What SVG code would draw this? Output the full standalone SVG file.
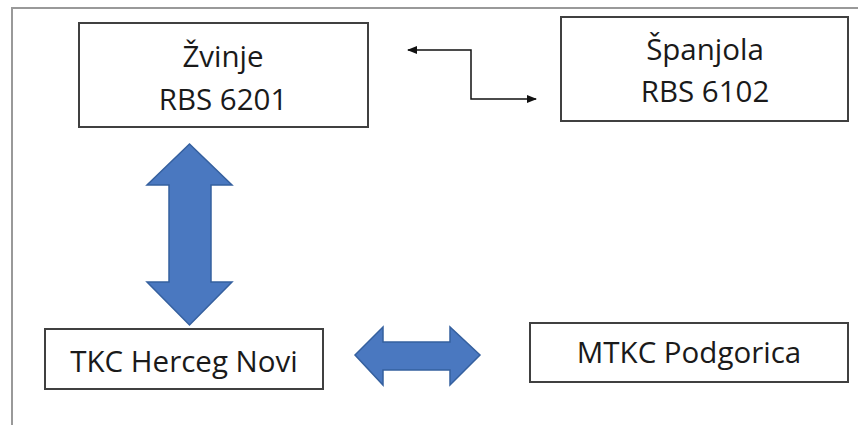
<svg xmlns="http://www.w3.org/2000/svg" width="858" height="425" viewBox="0 0 858 425">
<style>
.box{fill:#fff;stroke:#404040;stroke-width:2}
.t{font-family:"Open Sans","Liberation Sans",sans-serif;font-size:29.5px;fill:#1a1a1a;text-anchor:middle}
.fat{fill:#4a78c0;stroke:#35609f;stroke-width:1.5}
.thin{fill:none;stroke:#111;stroke-width:1.5}
</style>
<defs>
<marker id="ah" viewBox="0 0 10 10" refX="9" refY="5" markerWidth="7" markerHeight="7" orient="auto-start-reverse">
<path d="M0,1 L10,5 L0,9 Z" fill="#111"/>
</marker>
</defs>
<rect width="858" height="425" fill="#fff"/>
<path d="M12,425 V8 H858" fill="none" stroke="#999" stroke-width="2"/>
<g id="node-zvinje">
<rect class="box" x="79" y="23" width="289" height="104"/>
<text class="t" x="223" y="67">Žvinje</text>
<text class="t" x="223" y="110">RBS 6201</text>
</g>
<g id="node-spanjola">
<rect class="box" x="561" y="17" width="287" height="104"/>
<text class="t" x="705" y="60">Španjola</text>
<text class="t" x="705" y="102">RBS 6102</text>
</g>
<g id="node-tkc">
<rect class="box" x="45" y="329" width="278" height="60"/>
<text class="t" x="184" y="372">TKC Herceg Novi</text>
</g>
<g id="node-mtkc">
<rect class="box" x="530" y="323" width="318" height="59"/>
<text class="t" x="689" y="363">MTKC Podgorica</text>
</g>
<g id="connectors">
<path class="thin" d="M408,50 H471 V99 H536" marker-start="url(#ah)" marker-end="url(#ah)"/>
<path class="fat" d="M189.5,144 L232,185 H211 V282 H232 L189.5,325 L147,282 H169 V185 H147 Z"/>
<path class="fat" d="M355,355 L383,327 V342 H450 V327 L480,355 L450,385 V370 H383 V385 Z"/>
</g>
</svg>
